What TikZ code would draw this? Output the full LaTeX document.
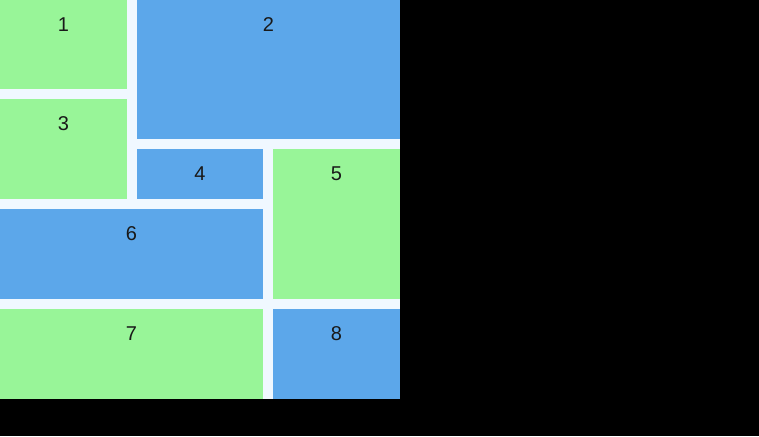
\documentclass[tikz,border=0pt]{standalone}
\usepackage{fontspec}
\setmainfont{Liberation Sans}
\usetikzlibrary{calc}
\definecolor{gridbg}{HTML}{F0F8FF}
\definecolor{tilegreen}{HTML}{98F598}
\definecolor{tileblue}{HTML}{5CA7EA}
\tikzset{
  tile/.style={rectangle, inner sep=0pt, outer sep=0pt, anchor=north west},
  greentile/.style={tile, fill=tilegreen},
  bluetile/.style={tile, fill=tileblue},
  num/.style={font=\fontsize{20}{20}\selectfont, text=black!90, inner sep=0pt},
}

\begin{document}
\begin{tikzpicture}[x=1pt, y=-1pt]
  \useasboundingbox (0,0) rectangle (759,436);
  \fill[black] (0,0) rectangle (759,436);
  \fill[gridbg] (0,0) rectangle (400,399);

  % Tiles
  \node[greentile, minimum width=127pt, minimum height=89pt] (t1) at (0,0) {};
  \node[bluetile, minimum width=263pt, minimum height=139pt] (t2) at (137,0) {};
  \node[greentile, minimum width=127pt, minimum height=100pt] (t3) at (0,99) {};
  \node[bluetile, minimum width=126pt, minimum height=50pt] (t4) at (137,149) {};
  \node[greentile, minimum width=127pt, minimum height=150pt] (t5) at (273,149) {};
  \node[bluetile, minimum width=263pt, minimum height=90pt] (t6) at (0,209) {};
  \node[greentile, minimum width=263pt, minimum height=90pt] (t7) at (0,309) {};
  \node[bluetile, minimum width=127pt, minimum height=90pt] (t8) at (273,309) {};

  % Labels
  \foreach \i in {1,...,8}
    \node[num] (n\i) at ($(t\i.north)+(0,25)$) {\i};
\end{tikzpicture}
\end{document}
